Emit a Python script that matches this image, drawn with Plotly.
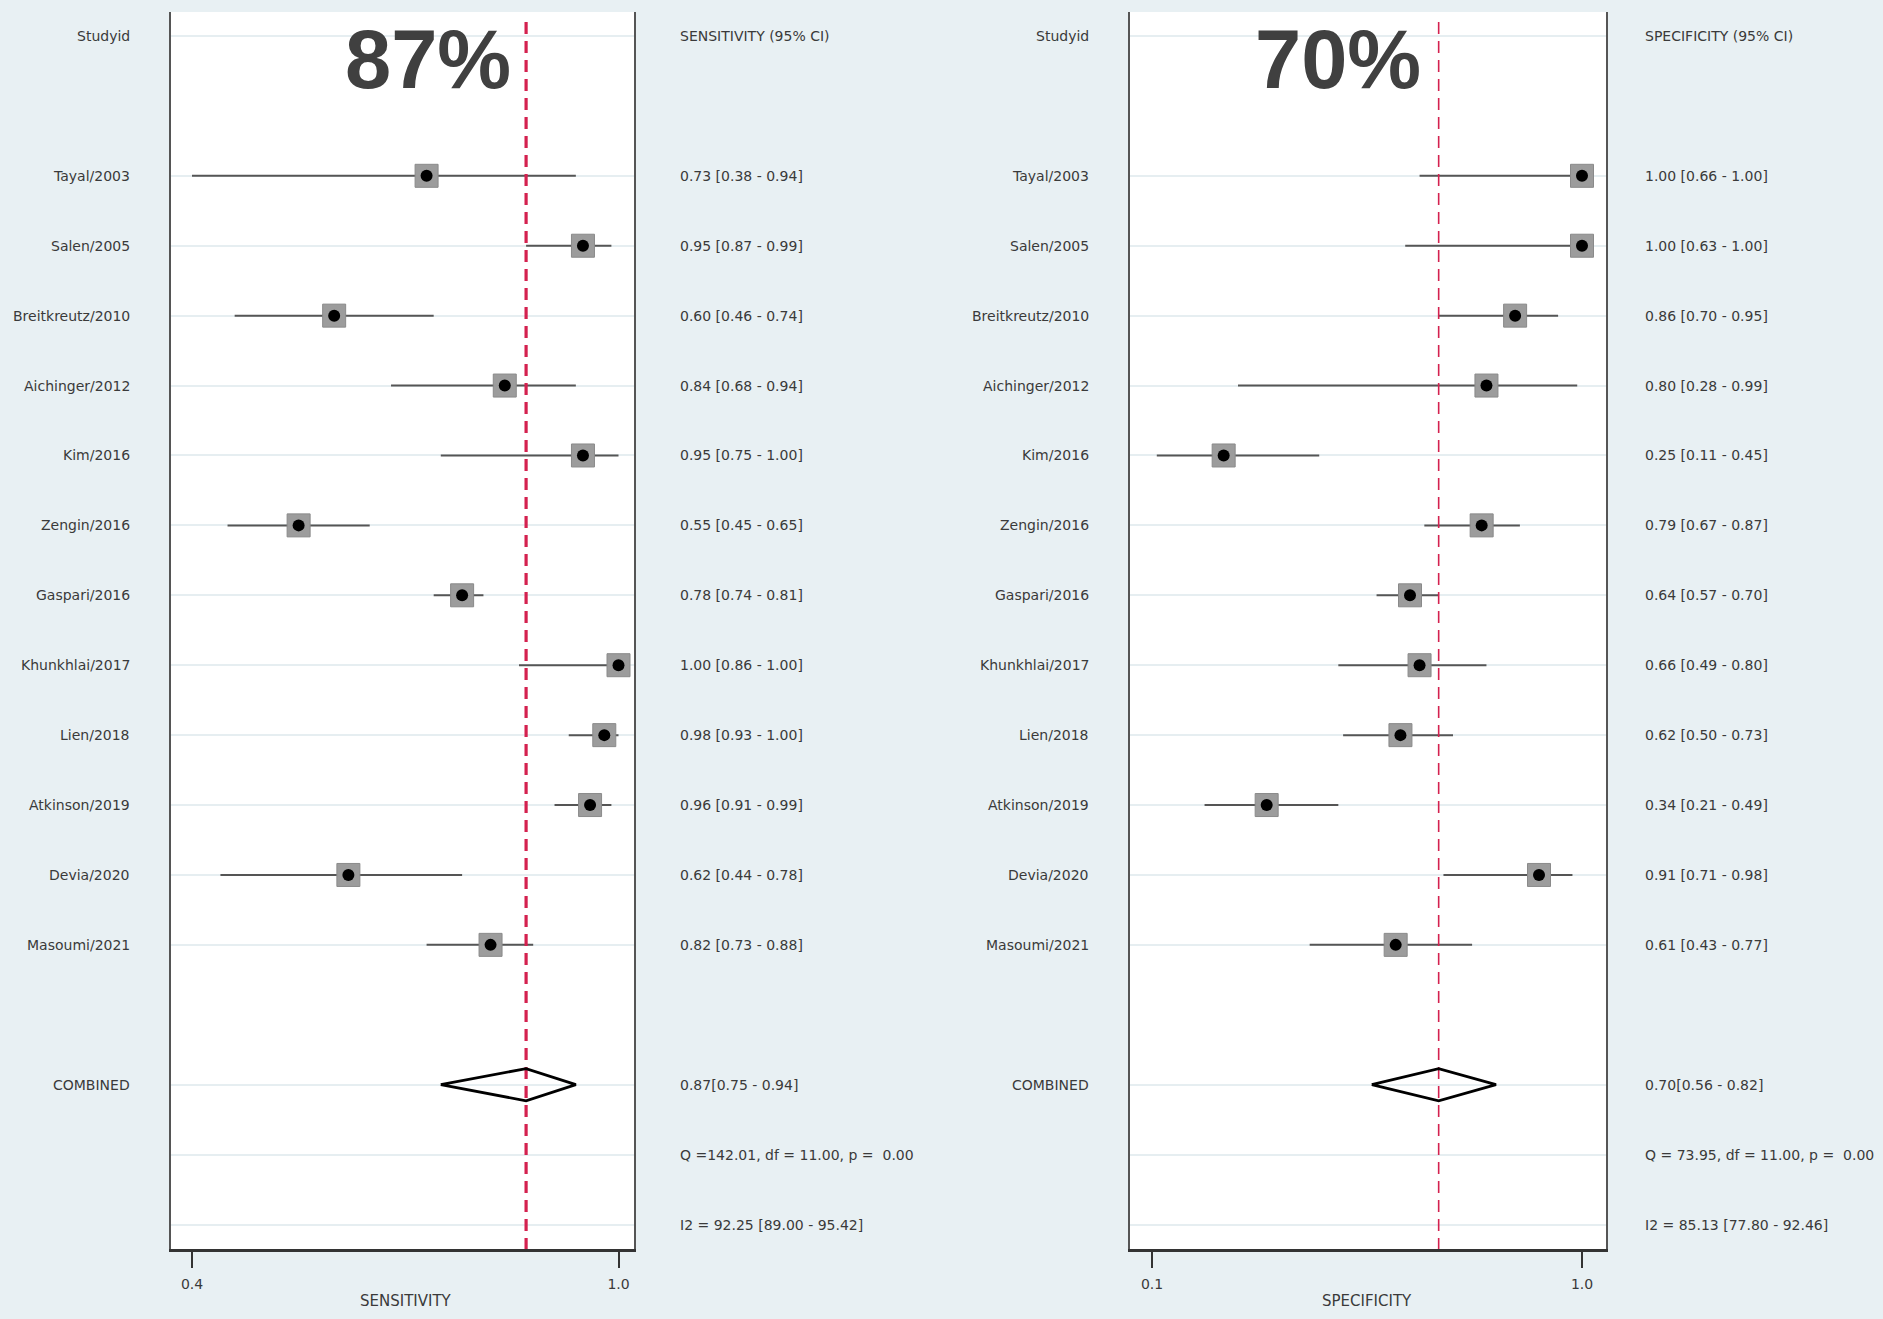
import numpy as np
import plotly.graph_objects as go

# ---------------- data ----------------
studies = ["Tayal/2003", "Salen/2005", "Breitkreutz/2010", "Aichinger/2012", "Kim/2016",
           "Zengin/2016", "Gaspari/2016", "Khunkhlai/2017", "Lien/2018", "Atkinson/2019",
           "Devia/2020", "Masoumi/2021"]
sens = [0.73, 0.95, 0.60, 0.84, 0.95, 0.55, 0.78, 1.00, 0.98, 0.96, 0.62, 0.82]
sens_lo = [0.38, 0.87, 0.46, 0.68, 0.75, 0.45, 0.74, 0.86, 0.93, 0.91, 0.44, 0.73]
sens_hi = [0.94, 0.99, 0.74, 0.94, 1.00, 0.65, 0.81, 1.00, 1.00, 0.99, 0.78, 0.88]
spec = [1.00, 1.00, 0.86, 0.80, 0.25, 0.79, 0.64, 0.66, 0.62, 0.34, 0.91, 0.61]
spec_lo = [0.66, 0.63, 0.70, 0.28, 0.11, 0.67, 0.57, 0.49, 0.50, 0.21, 0.71, 0.43]
spec_hi = [1.00, 1.00, 0.95, 0.99, 0.45, 0.87, 0.70, 0.80, 0.73, 0.49, 0.98, 0.77]
sens_pooled = [0.87, 0.75, 0.94]
spec_pooled = [0.70, 0.56, 0.82]
sens_stats = ["Q =142.01, df = 11.00, p =  0.00", "I2 = 92.25 [89.00 - 95.42]"]
spec_stats = ["Q = 73.95, df = 11.00, p =  0.00", "I2 = 85.13 [77.80 - 92.46]"]
sens_ticks = [0.4, 1.0]
spec_ticks = [0.1, 1.0]
sens_big = "87%"
spec_big = "70%"

# ---------------- layout constants ----------------
W, H = 1883, 1319
BG = "#e8f0f3"
TXT = "#3a3a3a"
FONT = "DejaVu Sans"
n = len(studies)
rows = list(range(2, 2 + n))
row_comb = n + 3
row_q = n + 4
row_i2 = n + 5
label_rows = [0] + rows + [row_comb, row_q, row_i2]
yrange = [17.35, -0.343]
ydom = [1 - 1249 / H, 1 - 12 / H]

panels = [
    dict(x="x", y="y", dom=[171 / W, 634 / W], rng=[0.37046, 1.02180], est=sens, lo=sens_lo,
         hi=sens_hi, pooled=sens_pooled, stats=sens_stats, ticks=sens_ticks,
         title="SENSITIVITY", title_x=406 / W, head="SENSITIVITY (95% CI)", lab_x=132 / W,
         res_x=678 / W, big=sens_big, big_x=513 / W, red_w=3.2, red_dash="12px,7px"),
    dict(x="x2", y="y2", dom=[1130 / W, 1606 / W], rng=[0.05395, 1.05023], est=spec, lo=spec_lo,
         hi=spec_hi, pooled=spec_pooled, stats=spec_stats, ticks=spec_ticks,
         title="SPECIFICITY", title_x=1367 / W, head="SPECIFICITY (95% CI)", lab_x=1091 / W,
         res_x=1643 / W, big=spec_big, big_x=1423 / W, red_w=1.6, red_dash="12px,7px"),
]

fig = go.Figure()
annotations = []

for p in panels:
    axmin = p["ticks"][0]
    lo_c = np.maximum(np.array(p["lo"]), axmin)
    hi_c = np.array(p["hi"])
    # CI lines
    xs, ys = [], []
    for r, a, b in zip(rows, lo_c, hi_c):
        xs += [a, b, None]
        ys += [r, r, None]
    fig.add_trace(go.Scatter(x=xs, y=ys, mode="lines", line=dict(color="#555555", width=2),
                             xaxis=p["x"], yaxis=p["y"], hoverinfo="skip", showlegend=False))
    # pooled estimate reference line
    fig.add_trace(go.Scatter(x=[p["pooled"][0], p["pooled"][0]], y=[-0.2, yrange[0]], mode="lines",
                             line=dict(color="#d4214f", width=p["red_w"], dash=p["red_dash"]),
                             xaxis=p["x"], yaxis=p["y"], hoverinfo="skip", showlegend=False))
    # weight boxes
    fig.add_trace(go.Scatter(x=p["est"], y=rows, mode="markers",
                             marker=dict(symbol="square", size=23, color="#9c9c9c",
                                         line=dict(color="#8a8a8a", width=1)),
                             xaxis=p["x"], yaxis=p["y"], hoverinfo="skip", showlegend=False))
    # point estimates
    fig.add_trace(go.Scatter(x=p["est"], y=rows, mode="markers",
                             marker=dict(symbol="circle", size=12, color="#000000"),
                             xaxis=p["x"], yaxis=p["y"], hoverinfo="skip", showlegend=False))
    # diamond
    e, l, h = p["pooled"]
    dh = 0.23
    fig.add_trace(go.Scatter(x=[l, e, h, e, l], y=[row_comb, row_comb - dh, row_comb, row_comb + dh, row_comb],
                             mode="lines", line=dict(color="#000000", width=2.8),
                             xaxis=p["x"], yaxis=p["y"], hoverinfo="skip", showlegend=False))

    yref = p["y"]
    # left labels
    lab_texts = ["Studyid"] + studies + ["COMBINED"]
    lab_rows = [0] + rows + [row_comb]
    for t, r in zip(lab_texts, lab_rows):
        annotations.append(dict(text=t, x=p["lab_x"], xref="paper", y=r, yref=yref,
                                xanchor="right", yanchor="middle", showarrow=False,
                                font=dict(family=FONT, size=14, color=TXT)))
    # right results column
    res_texts = [p["head"]] + ["%.2f [%.2f - %.2f]" % (a, b, c) for a, b, c in zip(p["est"], p["lo"], p["hi"])] \
        + ["%.2f[%.2f - %.2f]" % tuple(p["pooled"]), p["stats"][0], p["stats"][1]]
    res_rows = [0] + rows + [row_comb, row_q, row_i2]
    for t, r in zip(res_texts, res_rows):
        annotations.append(dict(text=t, x=p["res_x"], xref="paper", y=r, yref=yref,
                                xanchor="left", yanchor="middle", showarrow=False,
                                font=dict(family=FONT, size=14, color=TXT)))
    # axis title
    annotations.append(dict(text=p["title"], x=p["title_x"], xref="paper",
                            y=1 - 1301 / H, yref="paper", xanchor="center", yanchor="middle",
                            showarrow=False, font=dict(family=FONT, size=15, color=TXT)))
    # big percentage
    annotations.append(dict(text="<b>%s</b>" % p["big"], x=p["big_x"], xref="paper",
                            y=1 - 59 / H, yref="paper", xanchor="right", yanchor="middle",
                            showarrow=False, font=dict(family="Liberation Sans", size=83, color="#404040")))


def xaxis_cfg(p):
    return dict(domain=p["dom"], range=p["rng"], tickvals=p["ticks"],
                ticktext=["%.1f" % t for t in p["ticks"]], ticks="outside", ticklen=16,
                tickwidth=2, tickcolor="#333333", showline=True, linecolor="#333333",
                linewidth=3, showgrid=False, zeroline=False, anchor=p["y"],
                tickfont=dict(family=FONT, size=14, color=TXT), ticklabelstandoff=4,
                fixedrange=True)


def yaxis_cfg(p):
    return dict(domain=ydom, range=yrange, tickvals=label_rows, showticklabels=False,
                showgrid=True, gridcolor="#e6eef1", gridwidth=2, showline=True, mirror=True,
                linecolor="#555555", linewidth=2, zeroline=False, anchor=p["x"], ticks="",
                fixedrange=True)


fig.update_layout(
    width=W, height=H, margin=dict(l=0, r=0, t=0, b=0),
    paper_bgcolor=BG, plot_bgcolor="#ffffff",
    xaxis=xaxis_cfg(panels[0]), yaxis=yaxis_cfg(panels[0]),
    xaxis2=xaxis_cfg(panels[1]), yaxis2=yaxis_cfg(panels[1]),
    annotations=annotations, showlegend=False,
)

fig.write_html("out.html", config={"displayModeBar": False},
               post_script="document.body.style.margin='0';document.body.style.overflow='hidden';")
